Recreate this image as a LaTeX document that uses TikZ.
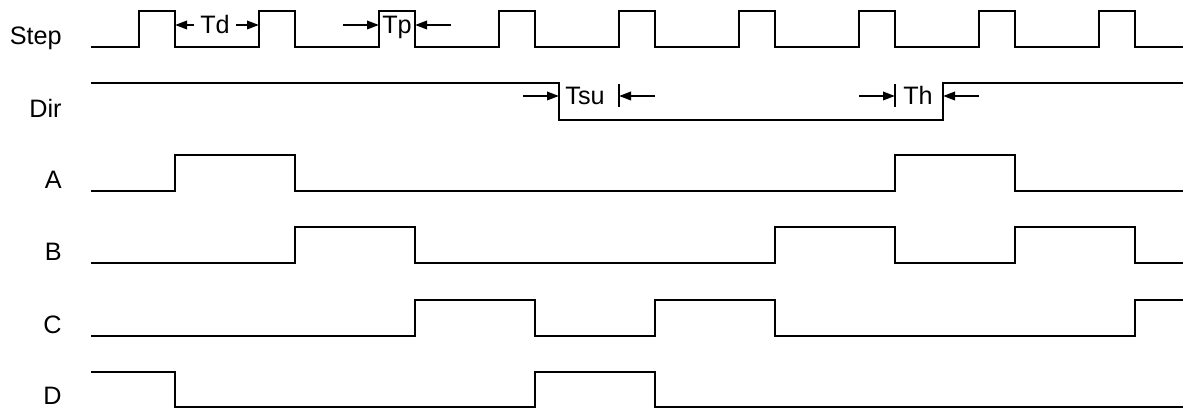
\documentclass[tikz,border=0pt]{standalone}
\usepackage{fontspec}
\setmainfont{Liberation Sans}
\usetikzlibrary{arrows.meta,positioning}

\begin{document}
\begin{tikzpicture}[x=0.5pt,y=-0.5pt,
  font=\fontsize{12.6}{15}\selectfont,
  wave/.style={line width=1.3pt,line join=miter},
  signame/.style={anchor=base east,inner sep=0pt},
  tlabel/.style={anchor=base,inner sep=0pt},
  dim/.style={-{Triangle[length=6pt,width=4.2pt]},line width=1.1pt},
  tick/.style={line width=1pt}]
	\useasboundingbox (0,0) rectangle (1183,410);

	% signal names
	\node[signame] (step) at (62,45) {Step};
	\node[signame] (dir) at (62,118) {Dir};
	\node[signame] (a) at (62,189) {A};
	\node[signame] (b) at (62,261) {B};
	\node[signame] (c) at (62,334) {C};
	\node[signame] (d) at (62,405) {D};

	% step pulses
	\draw[wave] (91,47) \foreach \k in {0,...,8} {
		-- ({139+120*\k},47) -- ({139+120*\k},11) -- ({175+120*\k},11) -- ({175+120*\k},47)} -- (1183,47);

	% dir
	\draw[wave] (91,83) -- (559,83) -- (559,120) -- (943,120) -- (943,83) -- (1183,83);

	% phases
	\draw[wave] (91,191) -- (175,191) -- (175,155) -- (295,155) -- (295,191) -- (895,191)
		-- (895,155) -- (1015,155) -- (1015,191) -- (1183,191);
	\draw[wave] (91,263) -- (295,263) -- (295,227) -- (415,227) -- (415,263) -- (775,263)
		-- (775,227) -- (895,227) -- (895,263) -- (1015,263) -- (1015,227) -- (1135,227)
		-- (1135,263) -- (1183,263);
	\draw[wave] (91,336) -- (415,336) -- (415,300) -- (535,300) -- (535,336) -- (655,336)
		-- (655,300) -- (775,300) -- (775,336) -- (1135,336) -- (1135,300) -- (1183,300);
	\draw[wave] (91,372) -- (175,372) -- (175,407) -- (535,407) -- (535,372) -- (655,372)
		-- (655,407) -- (1183,407);

	% Td
	\node[tlabel] (td) at (215,34) {Td};
	\coordinate (td0) at (194,25);
	\coordinate (td1) at (175,25);
	\coordinate (td2) at (259,25);
	\coordinate (td3) at (236,25);
	\draw[dim] (td0) -- (td1);
	\draw[dim] (td3) -- (td2);

	% Tp
	\node[tlabel] (tp) at (397,34) {Tp};
	\coordinate (tp0) at (343,25);
	\coordinate (tp1) at (379,25);
	\coordinate (tp2) at (415,25);
	\coordinate (tp3) at (451,25);
	\draw[dim] (tp0) -- (tp1);
	\draw[dim] (tp3) -- (tp2);

	% Tsu
	\node[tlabel] (tsu) at (585,105) {Tsu};
	\coordinate (tsu0) at (523,96);
	\coordinate (tsu1) at (559,96);
	\coordinate (tsu2) at (619,96);
	\coordinate (tsu3) at (655,96);
	\draw[tick] (619,84) -- (619,107);
	\draw[dim] (tsu0) -- (tsu1);
	\draw[dim] (tsu3) -- (tsu2);

	% Th
	\node[tlabel] (th) at (918,105) {Th};
	\coordinate (th0) at (859,96);
	\coordinate (th1) at (895,96);
	\coordinate (th2) at (943,96);
	\coordinate (th3) at (979,96);
	\draw[tick] (895,84) -- (895,107);
	\draw[dim] (th0) -- (th1);
	\draw[dim] (th3) -- (th2);
\end{tikzpicture}
\end{document}
